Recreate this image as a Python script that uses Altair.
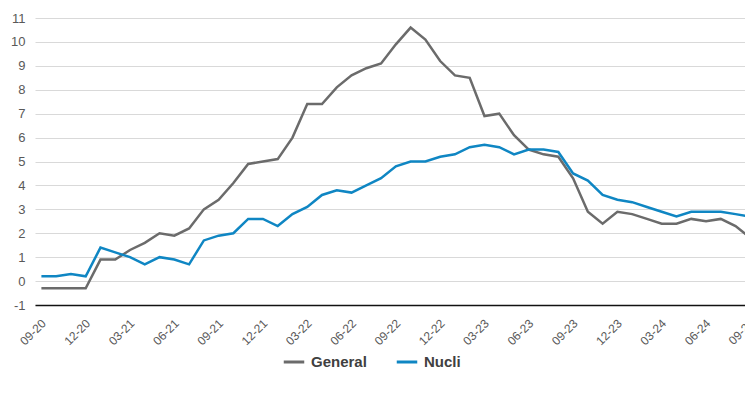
import json
import math

import altair as alt
import pandas as pd

# Monthly year-on-year rates, September 2020 to September 2024
months = []
for k in range(49):
    m = (8 + k) % 12 + 1
    y = 20 + (8 + k) // 12
    months.append(f"{m:02d}-{y:02d}")

general = [-0.3, -0.3, -0.3, -0.3, 0.9, 0.9, 1.3, 1.6, 2.0, 1.9, 2.2, 3.0, 3.4,
           4.1, 4.9, 5.0, 5.1, 6.0, 7.4, 7.4, 8.1, 8.6, 8.9, 9.1, 9.9, 10.6,
           10.1, 9.2, 8.6, 8.5, 6.9, 7.0, 6.1, 5.5, 5.3, 5.2, 4.3, 2.9, 2.4,
           2.9, 2.8, 2.6, 2.4, 2.4, 2.6, 2.5, 2.6, 2.3, 1.8]

nucli = [0.2, 0.2, 0.3, 0.2, 1.4, 1.2, 1.0, 0.7, 1.0, 0.9, 0.7, 1.7, 1.9,
         2.0, 2.6, 2.6, 2.3, 2.8, 3.1, 3.6, 3.8, 3.7, 4.0, 4.3, 4.8, 5.0,
         5.0, 5.2, 5.3, 5.6, 5.7, 5.6, 5.3, 5.5, 5.5, 5.4, 4.5, 4.2, 3.6,
         3.4, 3.3, 3.1, 2.9, 2.7, 2.9, 2.9, 2.9, 2.8, 2.7]

series = ["General", "Nucli"]
colors = ["#6b6b6b", "#0f86c3"]
y_ticks = list(range(-1, 12))
x_ticks = list(range(0, 49, 3))

rows = []
for name, vals in zip(series, [general, nucli]):
    for i, v in enumerate(vals):
        rows.append({"idx": i, "mes": months[i], "serie": name, "valor": v})
df = pd.DataFrame(rows)

FONT = "Liberation Sans"
LABEL_ANGLE = -45
LABEL_PAD = 16
LABEL_OFF = 2

label_expr = json.dumps(months) + "[datum.value]"

x_enc = alt.X(
    "idx:Q",
    scale=alt.Scale(domain=[-0.433, 47.64], nice=False, zero=False),
    axis=alt.Axis(
        values=x_ticks, labelExpr=label_expr, labelAngle=LABEL_ANGLE,
        labelAlign="right", labelBaseline="middle", labelPadding=LABEL_PAD,
        labelOffset=LABEL_OFF, labelFontSize=12, labelColor="#595959",
        labelFont=FONT, labelFlush=False, labelOverlap=False,
        domainColor="#111111", domainWidth=1.5, ticks=False, tickSize=0,
        grid=False, title=None,
    ),
)
y_enc = alt.Y(
    "valor:Q",
    scale=alt.Scale(domain=[-1, 11], nice=False, zero=False),
    axis=alt.Axis(
        values=y_ticks, labelExpr="'' + datum.value", grid=True,
        gridColor="#d9d9d9", gridWidth=1, domain=False, ticks=False,
        tickSize=0, labelPadding=10, labelFontSize=13, labelColor="#595959",
        labelFont=FONT, labelOverlap=False, labelFlush=False, title=None,
    ),
)

lines = alt.Chart(df).mark_line(strokeWidth=2.5, clip=True).encode(
    x=x_enc,
    y=y_enc,
    color=alt.Color(
        "serie:N",
        scale=alt.Scale(domain=series, range=colors),
        legend=alt.Legend(
            orient="none", legendX=247, legendY=332, direction="horizontal",
            title=None, symbolType="stroke", symbolStrokeWidth=3,
            symbolSize=420, labelFontSize=15, labelFontWeight="bold",
            labelColor="#404040", labelFont=FONT, labelOffset=5,
            columnPadding=23, padding=0,
        ),
    ),
)

# Last month label sits at the right edge of the plot, past the scale range
a = math.radians(LABEL_ANGLE)
edge_dx = LABEL_OFF * math.cos(a) + LABEL_PAD * math.sin(a)
edge_dy = -LABEL_OFF * math.sin(a) + LABEL_PAD * math.cos(a)
edge_df = pd.DataFrame({"idx": [48], "valor": [-1], "mes": [months[48]]})
edge_label = alt.Chart(edge_df).mark_text(
    angle=360 + LABEL_ANGLE, align="right", baseline="middle",
    dx=edge_dx, dy=edge_dy, fontSize=12, color="#595959", font=FONT,
).encode(x=x_enc, y=y_enc, text="mes:N")

chart = (
    alt.layer(lines, edge_label)
    .properties(
        width=710, height=287,
        autosize=alt.AutoSizeParams(type="none"),
        padding={"left": 35, "top": 18, "right": 0, "bottom": 89},
        background="white",
    )
    .configure_view(stroke=None)
)

chart.save("out.html", embed_options={"renderer": "svg", "actions": False})
